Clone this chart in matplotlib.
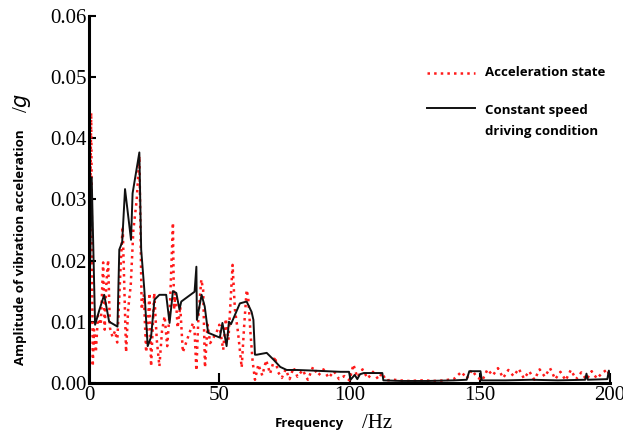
import matplotlib
matplotlib.use('Agg')
import matplotlib.pyplot as plt
from matplotlib.lines import Line2D

# constant speed driving condition (black solid)
const_freq = [0, 1.0, 2.3, 4.0, 5.8, 7.7, 10.9, 11.6, 12.7, 13.8, 16.1, 16.7,
              19.3, 20.0, 21.2, 22.5, 23.8, 25.1, 27.0, 29.6, 30.9, 32.2, 33.5,
              34.7, 35.4, 40.5, 41.2, 41.4, 43.2, 44.4, 45.7, 50.2, 51.2, 52.8,
              53.7, 54.5, 57.9, 60.5, 62.4, 63.1, 63.7, 64.4, 68.2, 70.8, 73.4,
              75.9, 79.8, 86.0, 96.5, 99.8, 100.4, 102.0, 103.0, 104.0, 105.5,
              107.0, 112.6, 113.0, 120.0, 130.0, 140.0, 145.0, 146.0, 150.3,
              150.8, 160.0, 170.0, 180.0, 190.5, 191.0, 191.5, 199.0, 199.6, 200.0]
const_amp = [0.0095, 0.0336, 0.0095, 0.012, 0.0144, 0.010, 0.0092, 0.0218,
             0.023, 0.0317, 0.0234, 0.031, 0.0377, 0.0218, 0.0153, 0.006,
             0.0075, 0.0136, 0.0144, 0.0144, 0.0098, 0.015, 0.0147, 0.012,
             0.0133, 0.0149, 0.019, 0.0103, 0.0144, 0.0125, 0.0082, 0.0074,
             0.0098, 0.006, 0.010, 0.0096, 0.013, 0.0133, 0.0116, 0.0103,
             0.0046, 0.0046, 0.0049, 0.0038, 0.0026, 0.0021, 0.0021, 0.002,
             0.0018, 0.0018, 0.0005, 0.0013, 0.0006, 0.0014, 0.0016, 0.0016,
             0.0016, 0.0004, 0.0003, 0.0003, 0.0004, 0.0005, 0.0019, 0.0019,
             0.0004, 0.0004, 0.0005, 0.0004, 0.0005, 0.0015, 0.0005, 0.0006,
             0.002, 0.0006]

# acceleration state (red dotted)
acc_freq = [0, 0.8, 1.4, 1.9, 2.6, 3.4, 4.5, 5.4, 6.0, 6.6, 7.3, 8.0, 9.0,
            10.0, 10.8, 11.5, 12.2, 12.9, 14.2, 15.0, 16.0, 17.0, 18.3, 19.3,
            20.2, 21.0, 21.9, 23.2, 23.8, 25.0, 26.0, 27.0, 28.0, 29.0, 30.0,
            31.0, 32.2, 32.6, 33.2, 34.0, 35.0, 36.0, 38.0, 39.9, 40.5, 41.2,
            42.0, 43.1, 43.8, 44.5, 45.5, 46.5, 48.9, 50.0, 51.5, 52.5, 53.5,
            55.1, 56.0, 57.2, 58.6, 59.5, 60.5, 61.1, 62.0, 62.8, 63.7, 65.0,
            66.5, 68.0, 69.5, 71.4, 72.5, 74.0, 75.5, 77.0, 78.5, 80.0, 82.0,
            84.0, 86.0, 88.0, 90.0, 92.0, 94.0, 96.0, 98.0, 100.0, 101.5,
            103.0, 105.0, 107.0, 109.0, 111.0, 112.5, 114.0, 117.0, 122.0,
            128.0, 134.0, 140.0, 143.0, 145.0, 147.0, 149.0, 151.0, 153.0,
            155.0, 157.0, 159.0, 161.0, 163.0, 165.0, 167.0, 169.0, 171.0,
            173.0, 175.0, 177.0, 179.0, 181.0, 183.0, 185.0, 187.0, 189.0,
            191.0, 193.0, 195.0, 197.0, 199.0, 200.0]
acc_amp = [0.009, 0.0442, 0.0027, 0.0087, 0.005, 0.011, 0.0095, 0.0197,
           0.0087, 0.016, 0.0201, 0.009, 0.0075, 0.0085, 0.0066, 0.013,
           0.020, 0.0256, 0.005, 0.012, 0.016, 0.025, 0.030, 0.0371,
           0.012, 0.0145, 0.005, 0.0147, 0.0027, 0.0147, 0.007, 0.0027,
           0.0085, 0.0109, 0.006, 0.012, 0.0262, 0.012, 0.0147, 0.009,
           0.0125, 0.005, 0.0075, 0.0098, 0.0085, 0.002, 0.011, 0.0169,
           0.0152, 0.0025, 0.0095, 0.0065, 0.0082, 0.0095, 0.0054, 0.0105,
           0.007, 0.0193, 0.012, 0.0082, 0.0025, 0.009, 0.0152, 0.014,
           0.008, 0.0035, 0.0005, 0.003, 0.0012, 0.0037, 0.0015, 0.0043,
           0.0018, 0.0008, 0.0022, 0.0006, 0.0025, 0.001, 0.0021, 0.0005,
           0.0026, 0.0012, 0.0022, 0.0008, 0.0019, 0.0006, 0.0011, 0.0004,
           0.003, 0.0009, 0.0022, 0.0007, 0.0018, 0.0006, 0.0016, 0.0004,
           0.0005, 0.0003, 0.0004, 0.0003, 0.0006, 0.0018, 0.0007, 0.0021,
           0.0009, 0.0004, 0.0022, 0.0012, 0.0024, 0.0008, 0.0021, 0.0011,
           0.0023, 0.0007, 0.0019, 0.0005, 0.0022, 0.001, 0.0024, 0.0006,
           0.0018, 0.0004, 0.0021, 0.0006, 0.0017, 0.0005, 0.0019, 0.0007,
           0.0016, 0.0022, 0.0008]

x_ticks = [0, 50, 100, 150, 200]
y_ticks = [0.00, 0.01, 0.02, 0.03, 0.04, 0.05, 0.06]
legend_labels = ['Acceleration state', 'Constant speed\ndriving condition']

serif = 'Liberation Serif'
sans = 'Open Sans'
red = '#ff1a1a'
black = '#111111'

W, H = 623, 437
fig = plt.figure(figsize=(W / 100, H / 100), dpi=100)
ax = fig.add_axes([0.143, 0.124, 0.836, 0.839])

ax.plot(acc_freq, acc_amp, color=red, linestyle=':', linewidth=1.8)
ax.plot(const_freq, const_amp, color=black, linewidth=1.4)

ax.set_xlim(0, 200)
ax.set_ylim(0, 0.06)
ax.set_xticks(x_ticks)
ax.set_yticks(y_ticks)
ax.set_xticklabels([str(t) for t in x_ticks], family=serif, fontsize=15)
ax.set_yticklabels([f'{t:.2f}' for t in y_ticks], family=serif, fontsize=15)
ax.tick_params(direction='in', length=5, width=1.5, pad=2)
ax.tick_params(axis='x', length=7)

for side in ['top', 'right']:
    ax.spines[side].set_visible(False)
for side in ['left', 'bottom']:
    ax.spines[side].set_linewidth(2.2)

# legend, laid out by hand (pixel positions from the top-left corner)
def px(x, y):
    return x / W, 1 - y / H

key_x = [427 / W, 475 / W]
fig.add_artist(Line2D(key_x, [px(0, 73)[1]] * 2, color=red, linestyle=':',
                      linewidth=1.8, transform=fig.transFigure))
fig.add_artist(Line2D(key_x, [px(0, 108)[1]] * 2, color=black, linewidth=1.4,
                      transform=fig.transFigure))
fig.text(*px(485, 73), legend_labels[0], family=sans, weight='bold',
         fontsize=9.5, ha='left', va='center')
fig.text(*px(485, 121), legend_labels[1], family=sans, weight='bold',
         fontsize=9.5, ha='left', va='center', linespacing=1.75)

fig.text(0.497, 0.030, 'Frequency', family=sans, weight='bold', fontsize=9.5,
         ha='center', va='center')
fig.text(0.605, 0.032, '/Hz', family=serif, fontsize=15, ha='center', va='center')
fig.text(0.033, 0.435, 'Amplitude of vibration acceleration', family=sans,
         weight='bold', fontsize=9.5, rotation=90, ha='center', va='center')
fig.text(0.035, 0.765, '/$g$', family=serif, fontsize=15, rotation=90,
         ha='center', va='center')

fig.savefig('out.png', dpi=100)
